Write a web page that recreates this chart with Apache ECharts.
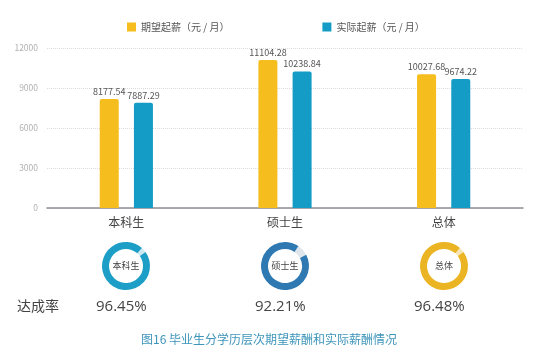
<!DOCTYPE html>
<html><head><meta charset="utf-8">
<script src="https://cdn.jsdelivr.net/npm/echarts@6/dist/echarts.min.js"></script>
<style>html,body{margin:0;padding:0;background:#fff}#c{width:548px;height:354px}</style>
</head><body><div id="c"></div>
<script>
var categories = ['本科生', '硕士生', '总体'];
var expected = [8177.54, 11104.28, 10027.68];
var actual = [7887.29, 10238.84, 9674.22];
var rates = [96.45, 92.21, 96.48];
var seriesNames = ['期望起薪（元 / 月）', '实际起薪（元 / 月）'];
var yTicks = [0, 3000, 6000, 9000, 12000];

var donutColors = [['#1d9ec7', '#cde8f1'], ['#2e79b2', '#dfe6ec'], ['#eab423', '#f6e6b5']];
var centersX = [126, 285, 444];
var font = '"Noto Sans CJK SC", sans-serif';

var chart = echarts.init(document.getElementById('c'), null, {renderer: 'canvas'});
var series = [
  {name: seriesNames[0], type: 'bar', data: expected, barWidth: 19, barGap: '80%',
   itemStyle: {color: '#f5bd1d', borderRadius: [2, 2, 0, 0]},
   label: {show: true, position: 'top', distance: 3, color: '#555', fontSize: 9, fontFamily: font, formatter: function (p) { return p.value.toFixed(2); }}},
  {name: seriesNames[1], type: 'bar', data: actual, barWidth: 19,
   itemStyle: {color: '#149cc6', borderRadius: [2, 2, 0, 0]},
   label: {show: true, position: 'top', distance: 3, color: '#555', fontSize: 9, fontFamily: font, formatter: function (p) { return p.value.toFixed(2); }}}
];
var graphics = [];
categories.forEach(function (cat, i) {
  var gap = 100 - rates[i];
  var gapDeg = gap * 3.6;
  series.push({
    type: 'pie', radius: [17, 24], center: [centersX[i], 266], silent: true,
    startAngle: 90 - 48 + gapDeg / 2, clockwise: true,
    label: {show: true, position: 'center', formatter: cat, color: '#444', fontSize: 9, fontFamily: font},
    labelLine: {show: false},
    data: [
      {value: gap, itemStyle: {color: donutColors[i][1]}, label: {show: false}},
      {value: rates[i], itemStyle: {color: donutColors[i][0]}}
    ]
  });
  graphics.push({type: 'text', left: centersX[i] - 30, top: 299, style: {text: rates[i].toFixed(2) + '%', width: 60, align: 'center', fill: '#444', font: '15px "Open Sans", sans-serif'}});
});
graphics.push({type: 'text', left: 17, top: 299, style: {text: '达成率', fill: '#444', font: '14px "Noto Sans CJK SC", sans-serif'}});
graphics.push({type: 'text', left: 141, top: 333, style: {text: '图16 毕业生分学历层次期望薪酬和实际薪酬情况', fill: '#3e95ba', font: '12px "Noto Sans CJK SC", sans-serif'}});

chart.setOption({
  animation: false,
  textStyle: {fontFamily: font},
  legend: {
    top: 17, left: 122, itemWidth: 9, itemHeight: 9, itemGap: 93, icon: 'rect',
    textStyle: {color: '#555', fontSize: 10, fontFamily: font},
    data: seriesNames
  },
  grid: {left: 47, right: 25, top: 48, bottom: 146},
  xAxis: {
    type: 'category', data: categories,
    axisLine: {lineStyle: {color: '#8a8f94', width: 1.5}},
    axisTick: {show: false},
    axisLabel: {color: '#444', fontSize: 12, margin: 8, fontFamily: font}
  },
  yAxis: {
    type: 'value', min: 0, max: yTicks[yTicks.length - 1], interval: yTicks[1] - yTicks[0],
    axisLine: {show: false}, axisTick: {show: false},
    axisLabel: {color: '#b0b0b0', fontSize: 8.5, margin: 9, formatter: function (v) { return String(v); }},
    splitLine: {lineStyle: {color: '#dcdcdc', type: 'dotted'}}
  },
  series: series,
  graphic: graphics
});
</script></body></html>
